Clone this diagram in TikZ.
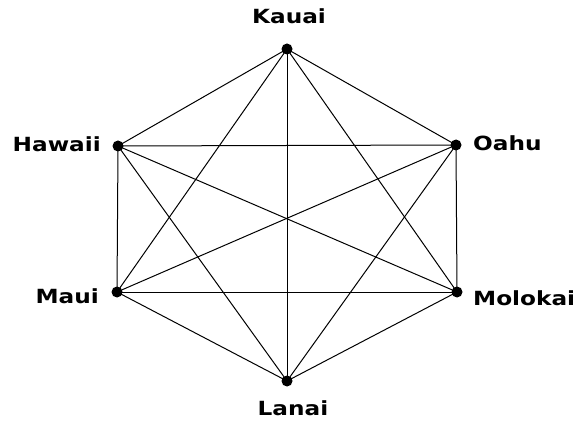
\documentclass[tikz,border=0pt]{standalone}
\usepackage{fontspec}
\newfontfamily\labfont{DejaVu Sans}[FakeStretch=1.19]
\begin{document}
\begin{tikzpicture}[x=1pt,y=1pt,
  dot/.style={circle,fill=black,inner sep=0pt,minimum size=11pt},
  lab/.style={inner sep=0pt,font=\labfont\bfseries\fontsize{19.5}{20}\selectfont},
  edge/.style={draw=black,line width=1pt}]
\useasboundingbox (0,0) rectangle (580,423);
% vertices (image y flipped: y = 423 - y_img)
\node[dot] (kauai)   at (287,374) {};
\node[dot] (hawaii)  at (118,277) {};
\node[dot] (oahu)    at (456,278) {};
\node[dot] (maui)    at (117,131) {};
\node[dot] (molokai) at (457,131) {};
\node[dot] (lanai)   at (287,42) {};
% labels
\node[lab,anchor=base]      (tk) at (289,399) {Kauai};
\node[lab,anchor=base east] (th) at (101,271) {Hawaii};
\node[lab,anchor=base west] (to) at (473,272) {Oahu};
\node[lab,anchor=base east] (tm) at (99,120)  {Maui};
\node[lab,anchor=base west] (tl) at (473,118) {Molokai};
\node[lab,anchor=base]      (tn) at (293,8)   {Lanai};
% edges (complete graph)
\foreach \a/\b in {kauai/hawaii,kauai/oahu,kauai/maui,kauai/molokai,kauai/lanai,
                   hawaii/oahu,hawaii/maui,hawaii/molokai,hawaii/lanai,
                   oahu/maui,oahu/molokai,oahu/lanai,
                   maui/molokai,maui/lanai,
                   molokai/lanai}
  \draw[edge] (\a.center) -- (\b.center);
\end{tikzpicture}
\end{document}
